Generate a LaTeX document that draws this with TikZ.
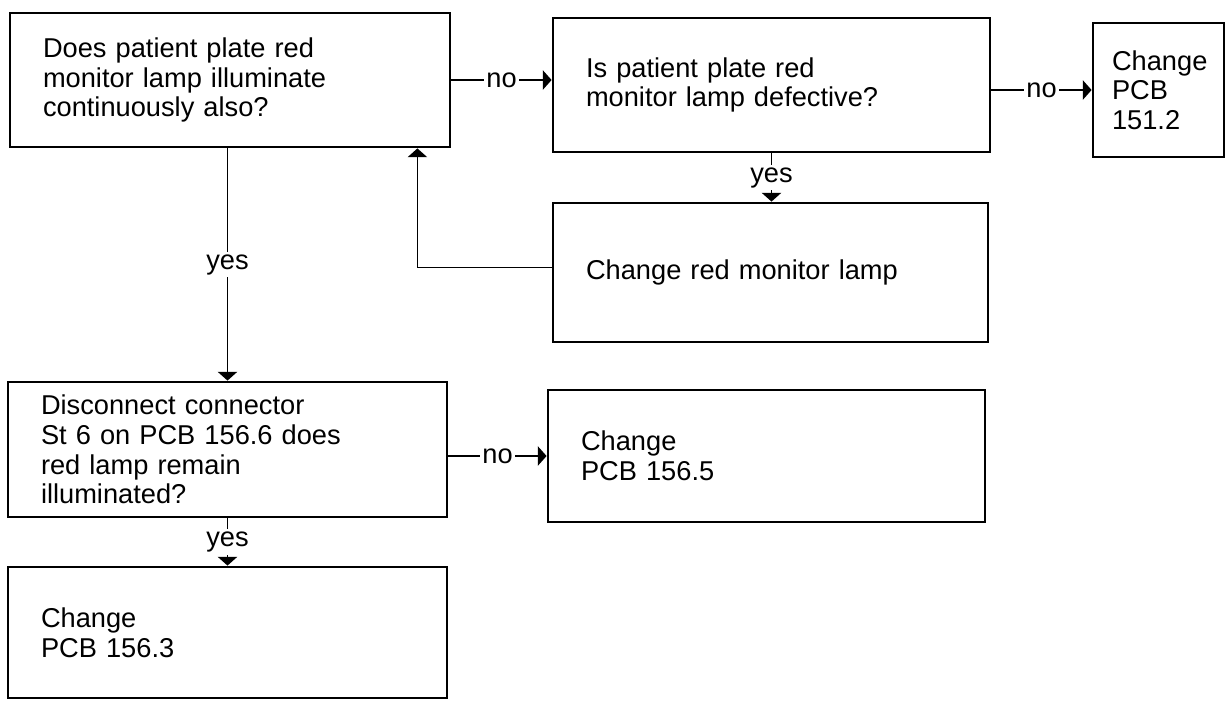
\documentclass[tikz,border=0pt]{standalone}
\usepackage{fontspec}
\setmainfont{Liberation Sans}
\usetikzlibrary{arrows.meta,positioning,calc}

\begin{document}
\begin{tikzpicture}[
  box/.style={draw,line width=1.6pt,inner xsep=0.66cm,inner ysep=0pt,align=left,
    font=\fontsize{15.5}{16.8}\selectfont},
  conn/.style={line width=0.9pt,-{Triangle[length=5pt,width=11pt]}},
  lbl/.style={fill=white,inner sep=1.5pt,font=\fontsize{15.5}{16.8}\selectfont}
]
  \useasboundingbox (0,0) rectangle (24.52,-14.02);
  % questions
  \node[box,minimum height=2.68cm,text width=7.48cm] (plate) at (4.6,-1.6)
    {Does patient plate red\\monitor lamp illuminate\\continuously also?};
  \node[box,minimum height=2.68cm,text width=7.42cm] (defect) at (15.43,-1.7)
    {Is patient plate red\\monitor lamp defective?};
  \node[box,minimum height=2.7cm,text width=7.46cm] (unplug) at (4.55,-8.99)
    {Disconnect connector\\St 6 on PCB 156.6 does\\red lamp remain\\illuminated?};
  % actions
  \node[box,inner xsep=0.38cm,minimum height=2.68cm,text width=1.86cm] (pcbone) at (23.17,-1.8)
    {Change\\PCB\\151.2};
  \node[box,minimum height=2.78cm,text width=7.38cm] (lamp) at (15.41,-5.45)
    {Change red monitor lamp};
  \node[box,minimum height=2.64cm,text width=7.42cm] (pcbfive) at (15.33,-9.12)
    {Change\\PCB 156.5};
  \node[box,minimum height=2.62cm,text width=7.46cm] (pcbthree) at (4.55,-12.65)
    {Change\\PCB 156.3};
  % connectors
  \draw[conn] (plate.east) -- (plate.east -| defect.west) node[lbl,midway] {no};
  \draw[conn] (defect.east |- pcbone.west) -- (pcbone.west) node[lbl,midway] {no};
  \draw[conn] (defect.south) -- (defect.south |- lamp.north) node[lbl,midway] {yes};
  \draw[conn] ([yshift=0.1cm]lamp.west) -| ([xshift=-0.68cm]plate.south east);
  \draw[conn] (unplug.north |- plate.south) -- (unplug.north) node[lbl,midway] {yes};
  \draw[conn] (unplug.east |- pcbfive.west) -- (pcbfive.west) node[lbl,midway] {no};
  \draw[conn] (unplug.south) -- (pcbthree.north) node[lbl,midway] {yes};
\end{tikzpicture}
\end{document}
